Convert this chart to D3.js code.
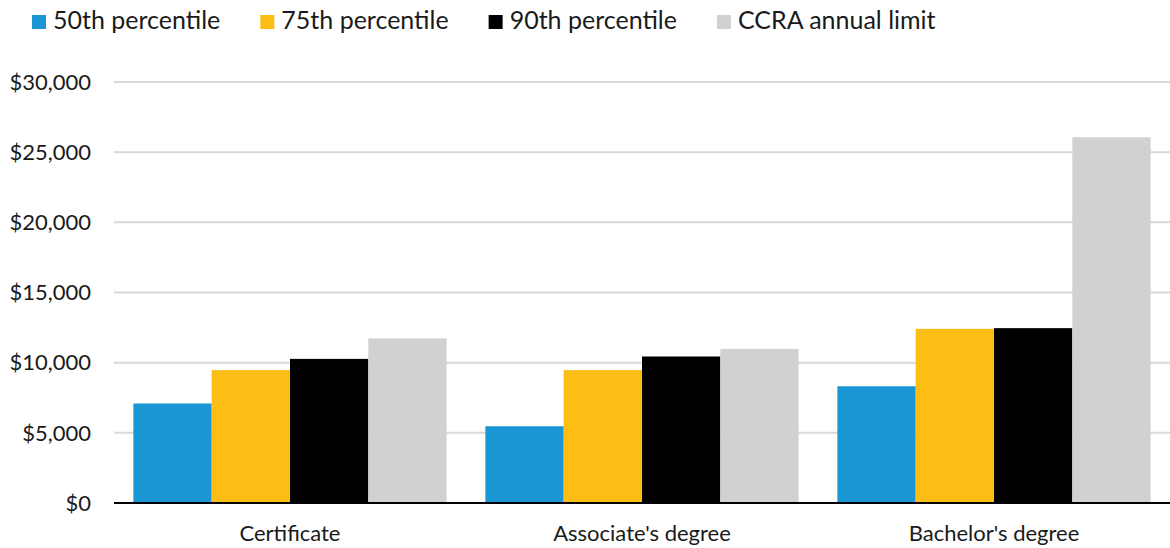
<!DOCTYPE html>
<html><head><meta charset="utf-8">
<script src="https://cdn.jsdelivr.net/npm/d3@7"></script>
<style>body{margin:0;background:#fff;} svg{display:block;font-family:Lato,sans-serif;}</style>
</head><body><svg id="c" width="1170" height="548"></svg>
<script>
const categories = ["Certificate", "Associate's degree", "Bachelor's degree"];
const seriesNames = ["50th percentile", "75th percentile", "90th percentile", "CCRA annual limit"];
const p50 = [7090, 5470, 8320];
const p75 = [9470, 9470, 12410];
const p90 = [10270, 10440, 12460];
const ccra = [11730, 10980, 26060];
const yTicks = [0, 5000, 10000, 15000, 20000, 25000, 30000];
const colors = ["#1a96d4", "#fcbe14", "#000000", "#d1d1d1"];

const series = [p50, p75, p90, ccra];
const svg = d3.select("#c");
const m = {left: 114, right: 1170, top: 82, bottom: 503};
const axisFont = 22;
const legendFont = 25;

const x0 = d3.scaleBand().domain(categories).range([m.left, m.right]).paddingInner(0.11).paddingOuter(0.055);
const x1 = d3.scaleBand().domain(seriesNames).range([0, x0.bandwidth()]);
const y = d3.scaleLinear().domain([0, 30000]).range([m.bottom, m.top]);

// gridlines
svg.append("g").selectAll("line").data(yTicks.filter(d => d > 0)).join("line")
  .attr("x1", m.left).attr("x2", m.right)
  .attr("y1", d => y(d)).attr("y2", d => y(d))
  .attr("stroke", "#d9d9d9").attr("stroke-width", 2);

// y labels
const fmt = d3.format("$,");
svg.append("g").selectAll("text").data(yTicks).join("text")
  .attr("x", 91).attr("y", d => y(d)).attr("dy", "0.35em")
  .attr("text-anchor", "end").attr("font-size", axisFont).attr("fill", "#1a1a1a")
  .text(d => fmt(d));

// bars
const g = svg.append("g");
categories.forEach((cat, ci) => {
  seriesNames.forEach((s, si) => {
    const v = series[si][ci];
    g.append("rect")
      .attr("x", x0(cat) + x1(s))
      .attr("width", x1.bandwidth())
      .attr("y", y(v))
      .attr("height", y(0) - y(v))
      .attr("fill", colors[si]);
  });
});

// x axis line
svg.append("line").attr("x1", m.left).attr("x2", m.right)
  .attr("y1", y(0)).attr("y2", y(0)).attr("stroke", "#000").attr("stroke-width", 2);

// category labels
svg.append("g").selectAll("text").data(categories).join("text")
  .attr("x", d => x0(d) + x0.bandwidth() / 2).attr("y", 541)
  .attr("text-anchor", "middle").attr("font-size", axisFont).attr("fill", "#1a1a1a")
  .text(d => d);

// legend
const leg = svg.append("g");
let lx = 32;
seriesNames.forEach((s, i) => {
  leg.append("rect").attr("x", lx).attr("y", 15).attr("width", 14).attr("height", 14).attr("fill", colors[i]);
  const t = leg.append("text").attr("x", lx + 21).attr("y", 29)
    .attr("font-size", legendFont).attr("fill", "#1a1a1a").text(s);
  lx += 21 + t.node().getComputedTextLength() + 40;
});
</script></body></html>
